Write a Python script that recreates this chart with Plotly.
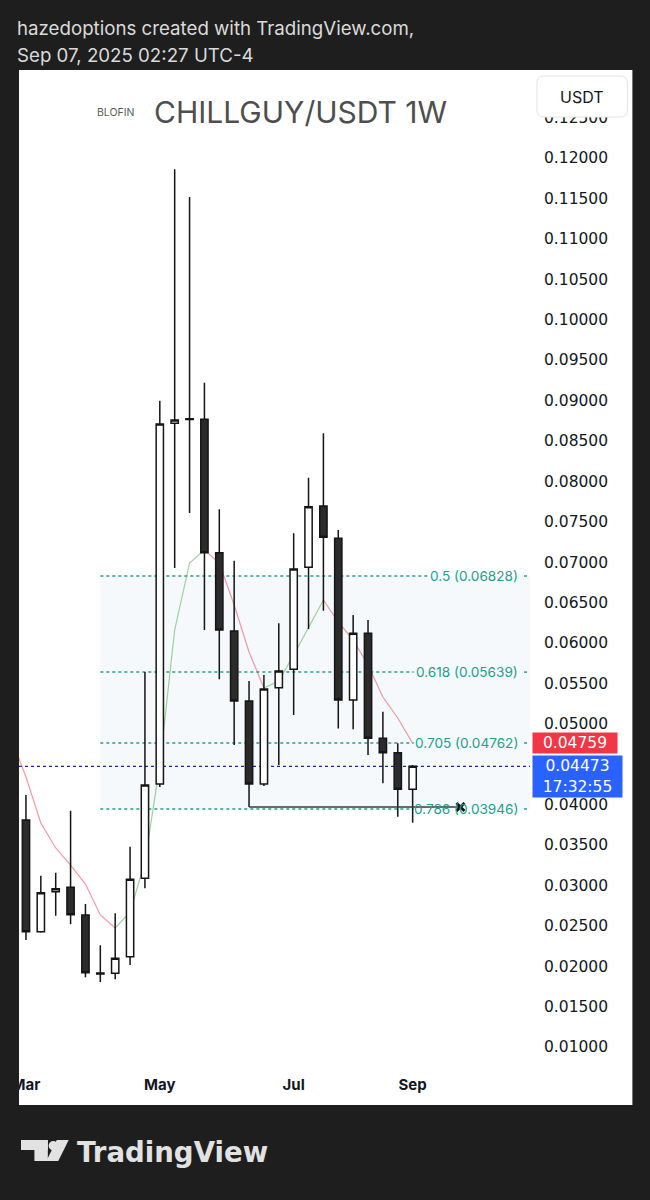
import plotly.graph_objects as go
import pandas as pd

# ---------------- data ----------------
dates = ["2025-03-03", "2025-03-10", "2025-03-17", "2025-03-24", "2025-03-31",
         "2025-04-07", "2025-04-14", "2025-04-21", "2025-04-28", "2025-05-05",
         "2025-05-12", "2025-05-19", "2025-05-26", "2025-06-02", "2025-06-09",
         "2025-06-16", "2025-06-23", "2025-06-30", "2025-07-07", "2025-07-14",
         "2025-07-21", "2025-07-28", "2025-08-04", "2025-08-11", "2025-08-18",
         "2025-08-25", "2025-09-01"]
opens = [0.03809, 0.02427, 0.02922, 0.02976, 0.02633, 0.01915, 0.01912, 0.02118, 0.03088,
         0.04254, 0.08717, 0.08765, 0.08767, 0.07116, 0.06148, 0.05281, 0.04254, 0.05446,
         0.05674, 0.06936, 0.07694, 0.07294, 0.05294, 0.06119, 0.04820, 0.04642, 0.04189]
highs = [0.04118, 0.03120, 0.03157, 0.03924, 0.02770, 0.02259, 0.02655, 0.03479, 0.05640,
         0.08997, 0.11860, 0.11517, 0.09220, 0.07653, 0.07017, 0.05529, 0.05603, 0.06243,
         0.07356, 0.08044, 0.08594, 0.07397, 0.06346, 0.06284, 0.05149, 0.04758, 0.04490]
lows = [0.02324, 0.02415, 0.02625, 0.02518, 0.01863, 0.01805, 0.01838, 0.02015, 0.02964,
        0.04217, 0.06927, 0.07608, 0.06160, 0.05550, 0.04737, 0.03970, 0.04230, 0.04490,
        0.05108, 0.06172, 0.06399, 0.04941, 0.04931, 0.04613, 0.04263, 0.03850, 0.03776]
closes = [0.02427, 0.02909, 0.02959, 0.02637, 0.01920, 0.01905, 0.02098, 0.03075, 0.04242,
          0.08709, 0.08758, 0.08775, 0.07116, 0.06160, 0.05281, 0.04254, 0.05430, 0.05653,
          0.06915, 0.07686, 0.07307, 0.05294, 0.06119, 0.04820, 0.04642, 0.04189, 0.04473]

ma_dates = ["2025-02-24"] + dates
ma_values = [0.04824, 0.04341, 0.03772, 0.03463, 0.03252, 0.03017, 0.02634, 0.02473, 0.02671,
             0.03289, 0.04490, 0.06160, 0.06989, 0.07150, 0.06989, 0.06469, 0.05888, 0.05442,
             0.05529, 0.05851, 0.06197, 0.06531, 0.06259, 0.06036, 0.05727, 0.05331, 0.05071,
             0.04759]

fib_ratios = ["0.5", "0.618", "0.705", "0.786"]
fib_prices = [0.06828, 0.05639, 0.04762, 0.03946]
fib_start = "2025-04-07"

sweep_level = 0.03970
sweep_start = "2025-06-16"
sweep_end = "2025-09-23 12:00"

last_price = 0.04473
ma_last = 0.04759
countdown = "17:32:55"

# 0.04500 sits under the last-price label in the reference, so it is not listed
y_ticks = [0.010, 0.015, 0.020, 0.025, 0.030, 0.035, 0.040, 0.050, 0.055, 0.060,
           0.065, 0.070, 0.075, 0.080, 0.085, 0.090, 0.095, 0.100, 0.105, 0.110, 0.115,
           0.120, 0.125]
x_tick_dates = ["2025-03-03", "2025-05-05", "2025-07-07", "2025-09-01"]
x_tick_labels = ["Mar", "May", "Jul", "Sep"]

# ---------------- layout geometry ----------------
W, H = 650, 1200
L, R, T, B = 16, 530, 70, 1068
base = pd.Timestamp("2025-03-03")
PX_PER_DAY = 2.1371


def px(x):
    return (x - L) / (R - L)


def py(y):
    return (B - y) / (B - T)


def pdate(x):
    # horizontal pixel -> date on the x axis
    return str(base + pd.Timedelta(days=(x - 23) / PX_PER_DAY))


x_range = [pdate(L), pdate(R)]
y_range = [0.12 - (B - 158) / 8082, 0.12 + (158 - T) / 8082]

FONT = "Inter"
NUMFONT = "DejaVu Sans"
TEAL = "#22a08c"
fill_col = "rgba(0,110,150,0.04)"

fig = go.Figure()

# moving average, coloured by direction
n = len(ma_values)
i = 0
while i < n - 1:
    up = ma_values[i + 1] > ma_values[i]
    j = i
    while j < n - 1 and (ma_values[j + 1] > ma_values[j]) == up:
        j += 1
    fig.add_trace(go.Scatter(
        x=ma_dates[i:j + 1], y=ma_values[i:j + 1], mode="lines",
        line=dict(color="rgba(76,175,80,0.55)" if up else "rgba(242,54,69,0.5)", width=1.2),
        hoverinfo="skip", zorder=-1))
    i = j

fig.add_trace(go.Candlestick(
    x=dates, open=opens, high=highs, low=lows, close=closes,
    increasing=dict(line=dict(color="#151515", width=1.5), fillcolor="#ffffff"),
    decreasing=dict(line=dict(color="#151515", width=1.5), fillcolor="#2b2b2b"),
    whiskerwidth=0, hoverinfo="skip"))

# sweep line with x marker
fig.add_trace(go.Scatter(x=[sweep_start, sweep_end], y=[sweep_level, sweep_level], mode="lines",
                         line=dict(color="#3a3a3a", width=1.5), hoverinfo="skip"))
fig.add_trace(go.Scatter(x=[sweep_end], y=[sweep_level], mode="markers",
                         marker=dict(symbol="x-thin", size=8, line=dict(color="#111", width=2.8)),
                         hoverinfo="skip"))

shapes = []
# white chart panel
shapes.append(dict(type="rect", xref="paper", yref="paper", x0=px(16), x1=px(633),
                   y0=py(1105), y1=py(70), fillcolor="white", line=dict(width=0), layer="below"))
# fib zone
shapes.append(dict(type="rect", xref="x", yref="y", x0=fib_start, x1=x_range[1],
                   y0=min(fib_prices), y1=max(fib_prices), fillcolor=fill_col,
                   line=dict(width=0), layer="below"))
# fib lines, broken where the label sits
label_left = {"0.5": 430, "0.618": 415, "0.705": 415, "0.786": 415}
for r_, p in zip(fib_ratios, fib_prices):
    for a, b in [(fib_start, pdate(label_left[r_] - 2)), (pdate(524), x_range[1])]:
        shapes.append(dict(type="line", xref="x", yref="y", x0=a, x1=b, y0=p, y1=p,
                           line=dict(color=TEAL, width=1.5, dash="dot"), layer="below"))
# last price line
shapes.append(dict(type="line", xref="paper", yref="y", x0=0, x1=1, y0=last_price, y1=last_price,
                   line=dict(color="#1a2a8a", width=1.2, dash="dot"), layer="below"))


def rrect(x0, y0, x1, y1, r):
    a0, a1 = px(x0), px(x1)
    b0, b1 = py(y1), py(y0)
    rx, ry = r / (R - L), r / (B - T)
    return (f"M {a0+rx},{b1} L {a1-rx},{b1} Q {a1},{b1} {a1},{b1-ry} L {a1},{b0+ry} "
            f"Q {a1},{b0} {a1-rx},{b0} L {a0+rx},{b0} Q {a0},{b0} {a0},{b0+ry} "
            f"L {a0},{b1-ry} Q {a0},{b1} {a0+rx},{b1} Z")


# USDT rounded box
shapes.append(dict(type="path", xref="paper", yref="paper", path=rrect(537, 76, 628, 117, 7),
                   fillcolor="white", line=dict(color="#e4e4e4", width=1), layer="above"))
# dark cover on far left
shapes.append(dict(type="rect", xref="paper", yref="paper", x0=px(-5), x1=px(16),
                   y0=py(H + 5), y1=py(-5), fillcolor="#1e1e1e", line=dict(width=0), layer="above"))

# TradingView logo glyph
LOGO = "#e2e2e2"
shapes.append(dict(type="rect", xref="paper", yref="paper", x0=px(18), x1=px(45),
                   y0=py(1150), y1=py(1140), fillcolor=LOGO, line=dict(width=0)))
shapes.append(dict(type="rect", xref="paper", yref="paper", x0=px(31.5), x1=px(45),
                   y0=py(1161), y1=py(1140), fillcolor=LOGO, line=dict(width=0)))
shapes.append(dict(type="circle", xref="paper", yref="paper", x0=px(45.8), x1=px(55.2),
                   y0=py(1150.5), y1=py(1141), fillcolor=LOGO, line=dict(width=0)))
shapes.append(dict(type="path", xref="paper", yref="paper",
                   path=f"M {px(54)},{py(1140)} L {px(66)},{py(1140)} L {px(55.5)},{py(1161)} "
                        f"L {px(43.5)},{py(1161)} Z",
                   fillcolor=LOGO, line=dict(width=0)))

annotations = []
# header
annotations.append(dict(xref="paper", yref="paper", x=px(12), y=py(29), xanchor="left",
                        yanchor="middle", showarrow=False,
                        text="hazedoptions created with TradingView.com,",
                        font=dict(family=FONT, size=18.7, color="#dadada")))
annotations.append(dict(xref="paper", yref="paper", x=px(12), y=py(55), xanchor="left",
                        yanchor="middle", showarrow=False, text="Sep 07, 2025 02:27 UTC-4",
                        font=dict(family=FONT, size=18.7, color="#dadada")))
# title
annotations.append(dict(xref="paper", yref="paper", x=px(92), y=py(113), xanchor="left",
                        yanchor="middle", showarrow=False, text="BLOFIN",
                        font=dict(family=FONT, size=10.5, color="#5a5a5a")))
annotations.append(dict(xref="paper", yref="paper", x=px(150), y=py(112), xanchor="left",
                        yanchor="middle", showarrow=False, text="CHILLGUY/USDT 1W",
                        font=dict(family=FONT, size=30, color="#4e4e4e")))
annotations.append(dict(xref="paper", yref="paper", x=px(582.5), y=py(96.5), xanchor="center",
                        yanchor="middle", showarrow=False, text="USDT",
                        font=dict(family=FONT, size=16, color="#131722")))
# fib labels
for r_, p in zip(fib_ratios, fib_prices):
    annotations.append(dict(xref="paper", yref="y", x=px(520), y=p, xanchor="right",
                            yanchor="middle", showarrow=False, text=f"{r_} ({p:.5f})",
                            borderpad=1,
                            font=dict(family=FONT, size=13.6, color=TEAL)))
# price labels
annotations.append(dict(xref="paper", yref="y", x=px(532), y=ma_last, xanchor="left",
                        yanchor="middle", showarrow=False, text=f"{ma_last:.5f}",
                        bgcolor="#f23645", width=84, height=20, borderpad=0,
                        font=dict(family=NUMFONT, size=15.5, color="white")))
annotations.append(dict(xref="paper", yref="y", x=px(532), y=last_price, xanchor="left",
                        yanchor="middle", yshift=-10, showarrow=False,
                        text=f"{last_price:.5f}<br>{countdown}",
                        bgcolor="#2962ff", width=89, height=41, borderpad=0,
                        font=dict(family=NUMFONT, size=15.5, color="white")))
# footer brand
annotations.append(dict(xref="paper", yref="paper", x=px(72), y=py(1152), xanchor="left",
                        yanchor="middle", showarrow=False, text="<b>TradingView</b>",
                        font=dict(family="DejaVu Sans", size=27.6, color=LOGO)))

fig.update_layout(
    width=W, height=H, autosize=False,
    margin=dict(l=L, r=W - R, t=T, b=H - B, pad=0),
    paper_bgcolor="#1e1e1e", plot_bgcolor="white",
    showlegend=False,
    shapes=shapes, annotations=annotations,
    xaxis=dict(type="date", range=x_range, rangeslider=dict(visible=False), showgrid=False,
               zeroline=False, showline=False, ticks="", tickvals=x_tick_dates,
               ticktext=x_tick_labels, ticklabelstandoff=6,
               tickfont=dict(family=FONT, size=15, color="#131722", weight="bold")),
    yaxis=dict(side="right", range=y_range, showgrid=False, zeroline=False, showline=False,
               ticks="", tickvals=y_ticks, ticktext=[f"{v:.5f}" for v in y_ticks],
               ticklabelstandoff=13,
               tickfont=dict(family=NUMFONT, size=15.5, color="#131722")),
)

fig.write_html("out.html", config={"displayModeBar": False},
               post_script="document.body.style.margin='0';"
                           "document.body.style.background='#1e1e1e';")
